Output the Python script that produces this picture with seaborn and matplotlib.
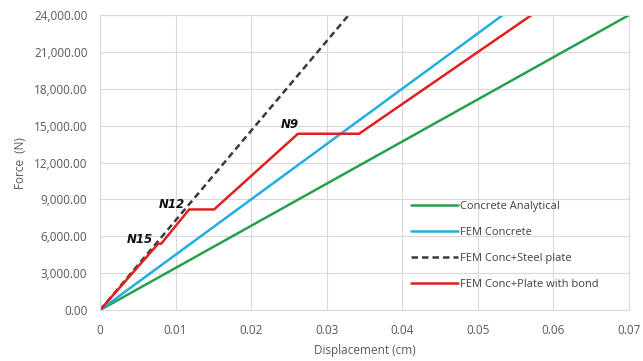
import matplotlib
matplotlib.use("Agg")
import matplotlib.pyplot as plt
import seaborn as sns
import pandas as pd
from matplotlib.ticker import FuncFormatter, MultipleLocator

# ---- data ----
analytical_x = [0.0, 0.070]
analytical_y = [0.0, 24000.0]
fem_conc_x = [0.0, 0.0533]
fem_conc_y = [0.0, 24000.0]
steel_x = [0.0, 0.0329]
steel_y = [0.0, 24000.0]
bond_x = [0.0, 0.0077, 0.0081, 0.0118, 0.0151, 0.0262, 0.0343, 0.0571]
bond_y = [0.0, 5400.0, 5400.0, 8190.0, 8190.0, 14350.0, 14350.0, 24000.0]
series_names = ["Concrete Analytical", "FEM Concrete", "FEM Conc+Steel plate", "FEM Conc+Plate with bond"]
annot_labels = ["N15", "N12", "N9"]
annot_x = [0.0035, 0.0078, 0.0239]
annot_y = [5450.0, 8300.0, 14800.0]

frames = []
for name, xs, ys in zip(series_names,
                        [analytical_x, fem_conc_x, steel_x, bond_x],
                        [analytical_y, fem_conc_y, steel_y, bond_y]):
    frames.append(pd.DataFrame({"x": xs, "y": ys, "series": name}))
df = pd.concat(frames, ignore_index=True)

sns.set_style("whitegrid")
plt.rcParams["font.family"] = ["Open Sans", "DejaVu Sans"]

fig = plt.figure(figsize=(6.43, 3.61), dpi=100)
ax = fig.add_axes([0.1555, 0.141, 0.8225, 0.817])

palette = {"Concrete Analytical": "#25a04e",
           "FEM Concrete": "#22aedf",
           "FEM Conc+Steel plate": "#3a3a3a",
           "FEM Conc+Plate with bond": "#e0201f"}
dashes = {"Concrete Analytical": "",
          "FEM Concrete": "",
          "FEM Conc+Steel plate": (2.6, 1.6),
          "FEM Conc+Plate with bond": ""}

sns.lineplot(data=df, x="x", y="y", hue="series", style="series",
             hue_order=series_names, style_order=series_names,
             palette=palette, dashes=dashes, sort=False, estimator=None,
             linewidth=1.8, ax=ax, legend=True)

ax.set_xlim(0, 0.07)
ax.set_ylim(0, 24000)
ax.xaxis.set_major_locator(MultipleLocator(0.01))
ax.yaxis.set_major_locator(MultipleLocator(3000))
ax.xaxis.set_major_formatter(FuncFormatter(lambda v, p: "0" if abs(v) < 1e-12 else f"{v:.2f}".rstrip("0")))
ax.yaxis.set_major_formatter(FuncFormatter(lambda v, p: f"{v:,.2f}"))

ax.grid(True, color="#d9d9d9", linewidth=0.8)
for s in ax.spines.values():
    s.set_color("#d9d9d9")
    s.set_linewidth(0.8)
ax.tick_params(axis="y", colors="#595959", labelsize=8.5, length=0, pad=9)
ax.tick_params(axis="x", colors="#595959", labelsize=8.5, length=0, pad=10)

ax.set_xlabel("Displacement (cm)", fontsize=8.5, color="#595959", labelpad=5)
ax.set_ylabel("Force  (N)", fontsize=8.5, color="#595959", labelpad=5)

for t, xv, yv in zip(annot_labels, annot_x, annot_y):
    ax.text(xv, yv, t, fontsize=8.5, fontweight="bold", fontstyle="italic",
            color="#111111", family=["DejaVu Sans"])

leg = ax.legend(loc="upper left", bbox_to_anchor=(0.57, 0.405), frameon=False,
                fontsize=8, labelspacing=1.35, handlelength=4.2, handletextpad=0.15,
                labelcolor="#404040")
for h in leg.get_lines():
    h.set_linewidth(1.8)

fig.savefig("out.png", dpi=100)
